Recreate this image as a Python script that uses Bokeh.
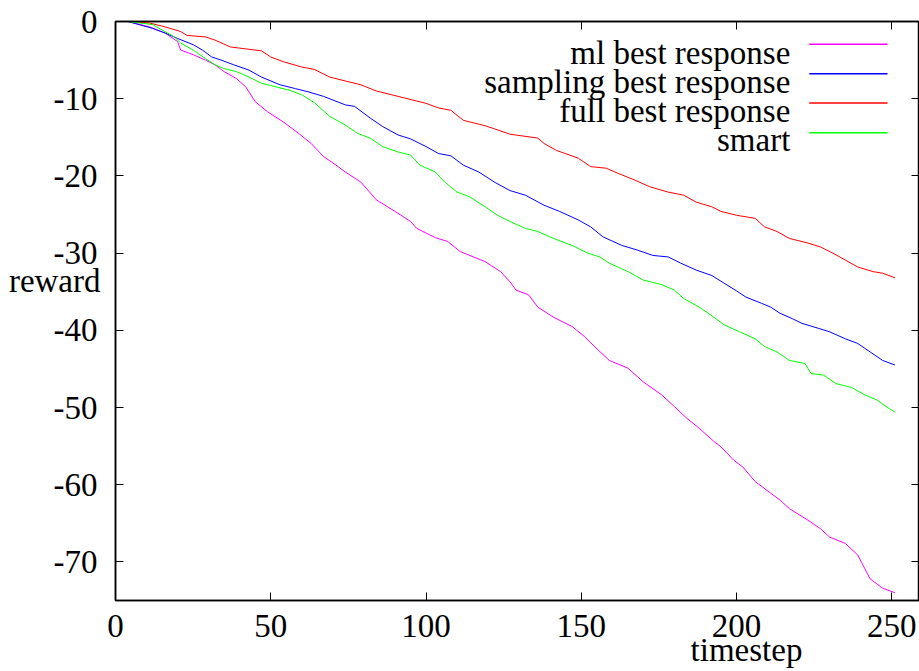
from bokeh.plotting import figure
from bokeh.models import Range1d, LinearAxis, FixedTicker, Label, Arrow
from bokeh.embed import file_html
from bokeh.resources import INLINE

# ---------------- data ----------------
series_names = ["ml best response", "sampling best response", "full best response", "smart"]

ml_t = [4, 6, 11, 16, 20, 21, 25, 29, 32, 35, 39, 42, 45, 49, 54, 59, 63, 67, 71, 74,
        79, 84, 90, 95, 97, 103, 107, 111, 119, 124, 127, 129, 133, 136, 141, 147, 151, 155, 159, 165,
        170, 176, 180, 184, 188, 193, 195, 199, 202, 206, 211, 214, 217, 223, 227, 230, 235, 239, 243, 247,
        251]
ml_reward = [0, -0.2, -0.7, -1.5, -2.6, -3.7, -4.3, -5.0, -5.6, -6.5, -7.4, -8.5, -10.4, -11.7, -13.0, -14.5, -15.8, -17.5, -18.6, -19.5,
             -20.8, -23.1, -24.6, -25.9, -26.8, -28.0, -28.5, -29.8, -31.1, -32.4, -33.7, -34.8, -35.4, -37.0, -38.3, -39.5, -40.8, -42.4, -43.9, -44.9,
             -46.7, -48.4, -49.9, -51.4, -52.7, -54.5, -55.1, -56.8, -57.7, -59.6, -61.1, -62.0, -63.1, -64.6, -65.7, -66.8, -67.6, -69.1, -72.2, -73.4,
             -74.0]

sampling_t = [4, 8, 12, 16, 20, 25, 28, 31, 34, 38, 43, 47, 53, 58, 62, 67, 74, 77, 82, 86,
              91, 95, 100, 104, 108, 112, 117, 122, 127, 132, 138, 143, 149, 153, 157, 163, 168, 173, 178, 182,
              187, 192, 196, 200, 203, 208, 211, 214, 218, 221, 226, 230, 235, 239, 243, 247, 251]
sampling_reward = [0, -0.45, -0.9, -1.5, -2.2, -3.0, -3.7, -4.6, -5.0, -5.6, -6.3, -7.2, -8.2, -8.7, -9.1, -9.7, -10.8, -11.0, -12.5, -13.6,
                   -14.7, -15.2, -16.2, -17.1, -17.4, -18.6, -19.5, -20.8, -21.9, -22.5, -23.8, -24.6, -25.7, -26.6, -27.9, -29.0, -29.6, -30.3, -30.5, -31.3,
                   -32.2, -32.9, -33.9, -34.9, -35.7, -36.5, -37.0, -37.8, -38.5, -39.1, -39.7, -40.2, -41.1, -41.7, -42.8, -43.9, -44.5]

full_t = [4, 11, 16, 21, 23, 29, 32, 37, 43, 47, 50, 54, 60, 64, 69, 74, 79, 84, 91, 97,
          100, 104, 108, 112, 119, 122, 127, 136, 138, 142, 149, 153, 158, 162, 167, 172, 178, 183, 187, 192,
          195, 200, 206, 209, 213, 217, 223, 227, 231, 235, 239, 244, 247, 251]
full_reward = [0, -0.2, -0.7, -1.3, -1.8, -2.0, -2.4, -3.3, -3.6, -3.8, -4.6, -5.2, -5.9, -6.2, -7.2, -7.7, -8.2, -9.0, -9.7, -10.3,
               -10.6, -11.2, -11.5, -12.8, -13.5, -13.9, -14.6, -15.1, -15.8, -16.7, -17.7, -18.8, -19.0, -19.7, -20.5, -21.4, -22.1, -22.5, -23.4, -24.0,
               -24.6, -25.1, -25.5, -26.6, -27.2, -28.1, -28.7, -29.2, -30.0, -30.9, -31.8, -32.4, -32.6, -33.2]

smart_t = [4, 12, 15, 19, 21, 25, 29, 32, 35, 39, 43, 47, 50, 56, 60, 64, 69, 74, 78, 82,
           86, 91, 95, 98, 103, 106, 110, 114, 119, 123, 127, 132, 136, 141, 147, 152, 156, 159, 165, 170,
           176, 180, 183, 188, 193, 196, 201, 206, 209, 213, 217, 222, 224, 228, 232, 237, 241, 245, 249, 251]
smart_reward = [0, -0.4, -1.1, -2.0, -2.8, -3.7, -4.8, -5.6, -6.1, -6.5, -7.2, -8.0, -8.3, -8.9, -9.5, -10.5, -12.3, -13.4, -14.5, -15.1,
                -16.2, -16.9, -17.3, -18.6, -19.5, -20.8, -22.1, -22.7, -24.0, -25.1, -25.9, -26.8, -27.2, -28.1, -29.0, -30.0, -30.5, -31.3, -32.4, -33.5,
                -34.1, -34.8, -35.9, -37.0, -38.4, -39.3, -40.2, -41.1, -42.1, -42.8, -43.9, -44.3, -45.6, -45.8, -46.9, -47.4, -48.3, -49.0, -50.1, -50.6]

x_ticks = [0, 50, 100, 150, 200, 250]
y_ticks = [0, -10, -20, -30, -40, -50, -60, -70]
x_title, y_title = "timestep", "reward"

# ---------------- style / layout ----------------
colors = ["#ff00ff", "#0000ff", "#ff0000", "#00ff00"]
FONT = "Times New Roman"
FS = "33px"
X_TITLE_POS = 203.2     # centre of x title, data units
Y_TITLE_POS = -33.6     # centre of y title, data units

p = figure(width=919, height=671, output_backend="svg", toolbar_location=None,
           x_range=Range1d(0, 258.9), y_range=Range1d(-75, 0),
           min_border_left=115, min_border_right=0, min_border_top=21, min_border_bottom=71,
           x_axis_location=None, y_axis_location=None)
p.grid.visible = False
p.outline_line_color = "black"
p.outline_line_width = 1.5
p.background_fill_color = "white"
p.border_fill_color = "white"


def base_axis(ax):
    ax.major_tick_in = 8
    ax.major_tick_out = 0
    ax.minor_tick_in = 8
    ax.minor_tick_out = 0
    ax.axis_line_color = "black"
    ax.axis_line_width = 1.5
    ax.major_tick_line_color = "black"
    ax.minor_tick_line_color = "black"
    ax.major_label_text_font = FONT
    ax.major_label_text_font_size = FS
    ax.major_label_text_color = "black"


# main axes
xb = LinearAxis(ticker=FixedTicker(ticks=x_ticks), major_label_overrides={v: str(v) for v in x_ticks})
base_axis(xb)
xb.major_label_standoff = 14
p.add_layout(xb, "below")

yl = LinearAxis(ticker=FixedTicker(ticks=y_ticks), major_label_overrides={v: str(v) for v in y_ticks})
base_axis(yl)
yl.major_label_standoff = 18
p.add_layout(yl, "left")

# mirror ticks on top and right (no labels: ticks given as minor ticks)
xa = LinearAxis(ticker=FixedTicker(ticks=[], minor_ticks=x_ticks))
base_axis(xa)
xa.major_label_standoff = 0
p.add_layout(xa, "above")

yr = LinearAxis(ticker=FixedTicker(ticks=[], minor_ticks=y_ticks))
base_axis(yr)
yr.major_label_standoff = 0
p.add_layout(yr, "right")

# axis titles as single-label outer axes
xt_ax = LinearAxis(ticker=FixedTicker(ticks=[X_TITLE_POS]), major_label_overrides={X_TITLE_POS: x_title})
base_axis(xt_ax)
xt_ax.axis_line_color = None
xt_ax.major_tick_line_color = None
xt_ax.major_label_standoff = -8
p.add_layout(xt_ax, "below")

yt_ax = LinearAxis(ticker=FixedTicker(ticks=[Y_TITLE_POS]), major_label_overrides={Y_TITLE_POS: y_title})
base_axis(yt_ax)
yt_ax.axis_line_color = None
yt_ax.major_tick_line_color = None
yt_ax.major_label_standoff = -50
p.add_layout(yt_ax, "left")

all_t = [ml_t, sampling_t, full_t, smart_t]
all_r = [ml_reward, sampling_reward, full_reward, smart_reward]
for t, r, c in zip(all_t, all_r, colors):
    p.line(t, r, line_color=c, line_width=1)

# legend (text right-aligned, sample line on the right, as in gnuplot)
LEG_TEXT_X = 217.3
LEG_LINE_X0 = 223.4
LEG_LINE_X1 = 248.6
leg_base_y = [-4.04, -7.84, -11.6, -15.38]
leg_line_y = [-2.95, -6.76, -10.56, -14.41]
for name, c, by, ly in zip(series_names, colors, leg_base_y, leg_line_y):
    p.add_layout(Label(x=LEG_TEXT_X, y=by, text=name, text_align="right", text_baseline="alphabetic",
                       text_font=FONT, text_font_size=FS, text_color="black"))
    p.add_layout(Arrow(end=None, x_start=LEG_LINE_X0, y_start=ly, x_end=LEG_LINE_X1, y_end=ly,
                       line_color=c, line_width=1.5))

open("out.html", "w").write(file_html(p, INLINE))
